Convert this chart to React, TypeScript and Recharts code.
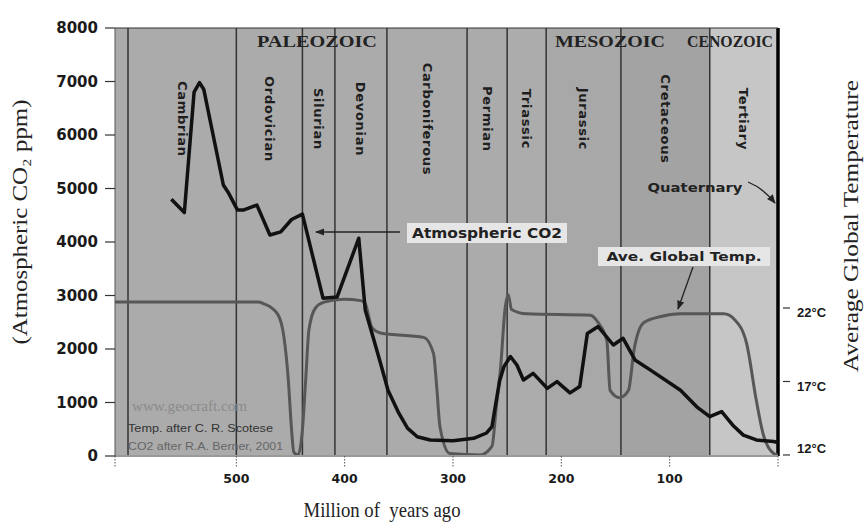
import React from "react";
import {
  ComposedChart,
  Line,
  XAxis,
  YAxis,
  ReferenceArea,
  ReferenceLine,
  ReferenceDot,
} from "recharts";

// CO2 after Berner 2001 (Myr ago, ppm)
const co2Ages = [
  560, 548, 539, 534, 530, 512, 507, 499, 493, 481, 469, 459, 449, 439, 420,
  407, 387, 381, 373, 366, 360, 350, 342, 333, 321, 300, 281, 269, 264, 261,
  257, 253, 247, 241, 235, 226, 213, 204, 192, 183, 176, 166, 152, 143, 132,
  118, 90, 75, 63, 52, 41, 32, 20, 4, 0,
];
const co2Ppm = [
  4800, 4550, 6800, 6980, 6850, 5065, 4910, 4600, 4600, 4690, 4130, 4190, 4420,
  4520, 2950, 2970, 4070, 2730, 2170, 1670, 1230, 800, 520, 360, 300, 285, 330,
  430, 550, 920, 1400, 1670, 1860, 1700, 1420, 1545, 1265, 1390, 1180, 1300,
  2290, 2420, 2075, 2200, 1795, 1610, 1230, 920, 735, 830, 560, 390, 300, 270,
  250,
];

// average global temperature after Scotese (Myr ago, deg C)
const tempAges = [
  612, 480, 475, 462, 456, 452, 449, 447, 443, 439, 436, 433, 427, 419, 401,
  385, 381, 375, 367, 327, 318, 315, 312, 303, 275, 264, 260, 256, 252, 249,
  246, 232, 173, 166, 158, 155, 146, 138, 133, 124, 109, 90, 50, 40, 29, 20,
  14, 4, 0,
];
const tempC = [
  22.4, 22.4, 22.3, 21.6, 20, 17.1, 13.7, 12.2, 12.0, 13.7, 17.1, 20.5, 22,
  22.4, 22.6, 22.5, 22.3, 20.7, 20.3, 20.0, 18.9, 16.6, 13.9, 12.1, 12.0, 12.6,
  15.3, 18, 21.9, 22.9, 21.9, 21.6, 21.5, 21, 19.8, 16.4, 15.9, 16.4, 19.1, 21,
  21.4, 21.6, 21.6, 21.2, 19.6, 15.7, 13.5, 12.1, 12,
];

// period boundaries as drawn, and the labels printed along the top
const boundaryAges = [600, 500, 439, 409, 361, 287, 250, 214, 145, 63];
const topTickAges = [590, 505, 438, 408, 360, 286, 248, 213, 144, 65, 2];
const periodNames = [
  "Cambrian",
  "Ordovician",
  "Silurian",
  "Devonian",
  "Carboniferous",
  "Permian",
  "Triassic",
  "Jurassic",
  "Cretaceous",
  "Tertiary",
];
const periodShades = [
  "#ababab",
  "#ababab",
  "#ababab",
  "#ababab",
  "#ababab",
  "#ababab",
  "#acacac",
  "#a8a8a8",
  "#a3a3a3",
  "#c6c6c6",
];

const co2Ticks = [0, 1000, 2000, 3000, 4000, 5000, 6000, 7000, 8000];
const tempTicks = [12, 17, 22];
const ageTicks = [612, 500, 400, 300, 200, 100, 0];
const ageLabels = [500, 400, 300, 200, 100];

const OLDEST = 612;

const co2Data = co2Ages.map((age, i) => ({ age, ppm: co2Ppm[i] }));
const tempData = tempAges.map((age, i) => ({ age, temp: tempC[i] }));
const periods = periodNames.map((name, i) => ({
  name,
  from: boundaryAges[i],
  to: i + 1 < boundaryAges.length ? boundaryAges[i + 1] : 0,
  fill: periodShades[i],
}));

const SANS = "DejaVu Sans";
const SERIF = "Liberation Serif";

function LeftTick({ x, y, payload }: any) {
  return (
    <g>
      <line x1={x - 10} x2={x} y1={y} y2={y} stroke="#333" strokeWidth={1.2} />
      <text
        x={x - 17}
        y={y}
        textAnchor="end"
        dominantBaseline="central"
        fontFamily={SANS}
        fontWeight="bold"
        fontSize={15}
        fill="#1a1a1a"
      >
        {payload.value}
      </text>
    </g>
  );
}

function RightTick({ x, y, payload }: any) {
  return (
    <g>
      <line x1={x + 5} x2={x + 12} y1={y} y2={y} stroke="#333" strokeWidth={1.2} />
      <text
        x={x + 19}
        y={Math.min(y + 5, 448)}
        dominantBaseline="central"
        fontFamily="Liberation Sans"
        fontWeight="bold"
        fontSize={13}
        fill="#1a1a1a"
      >
        {`${payload.value}°C`}
      </text>
    </g>
  );
}

function BottomTick({ x, y, payload }: any) {
  const show = ageLabels.includes(payload.value);
  return (
    <g>
      <line
        x1={x}
        x2={x}
        y1={y}
        y2={y + 12}
        stroke="#555"
        strokeWidth={1}
        strokeDasharray="1.5 1.5"
      />
      {show && (
        <text
          x={x}
          y={y + 22}
          textAnchor="middle"
          dominantBaseline="central"
          fontFamily={SANS}
          fontWeight="bold"
          fontSize={12.5}
          fill="#1a1a1a"
        >
          {payload.value}
        </text>
      )}
    </g>
  );
}

function TopTick({ x, y, payload }: any) {
  return (
    <text
      x={x}
      y={y - 9}
      textAnchor="middle"
      dominantBaseline="central"
      fontFamily={SANS}
      fontSize={16}
      fill="#1a1a1a"
    >
      {payload.value}
    </text>
  );
}

function PeriodLabel({ cx, cy, name }: any) {
  return (
    <text
      x={cx}
      y={cy}
      transform={`rotate(90 ${cx} ${cy})`}
      textAnchor="middle"
      dominantBaseline="central"
      fontFamily={SANS}
      fontWeight="bold"
      fontSize={13}
      letterSpacing={0.7}
      fill="#1e1e1e"
    >
      {name}
    </text>
  );
}

function Overlay() {
  const boxText = {
    fontFamily: SANS,
    fontWeight: "bold" as const,
    fill: "#222",
  };
  return (
    <svg
      width={868}
      height={526}
      style={{ position: "absolute", left: 0, top: 0, pointerEvents: "none" }}
    >
      <defs>
        <marker
          id="arrowHead"
          viewBox="0 0 10 10"
          refX="9"
          refY="5"
          markerWidth="7"
          markerHeight="7"
          orient="auto"
        >
          <path d="M0,1 L10,5 L0,9 z" fill="#222" />
        </marker>
      </defs>

      {/* era names */}
      <g fontFamily={SERIF} fontWeight="bold" fontSize={17} fill="#222" textAnchor="middle">
        <text x={317} y={47} textLength={120} lengthAdjust="spacingAndGlyphs">
          PALEOZOIC
        </text>
        <text x={610} y={47} textLength={110} lengthAdjust="spacingAndGlyphs">
          MESOZOIC
        </text>
        <text x={730} y={47} textLength={86} lengthAdjust="spacingAndGlyphs">
          CENOZOIC
        </text>
      </g>

      {/* CO2 callout */}
      <line x1={400} y1={232} x2={316} y2={232} stroke="#222" strokeWidth={1.3} markerEnd="url(#arrowHead)" />
      <rect x={407} y={223} width={160} height={20} fill="#e6e6e6" />
      <text
        x={487}
        y={233}
        textAnchor="middle"
        dominantBaseline="central"
        fontSize={14}
        textLength={150}
        lengthAdjust="spacingAndGlyphs"
        {...boxText}
      >
        Atmospheric CO2
      </text>

      {/* temperature callout */}
      <rect x={598} y={247} width={172} height={19} fill="#e6e6e6" />
      <text
        x={684}
        y={256.5}
        textAnchor="middle"
        dominantBaseline="central"
        fontSize={13}
        textLength={155}
        lengthAdjust="spacingAndGlyphs"
        {...boxText}
      >
        Ave. Global Temp.
      </text>
      <line x1={693} y1={267} x2={678} y2={309} stroke="#222" strokeWidth={1.3} markerEnd="url(#arrowHead)" />

      {/* Quaternary callout */}
      <text
        x={695}
        y={187}
        textAnchor="middle"
        dominantBaseline="central"
        fontSize={13}
        textLength={95}
        lengthAdjust="spacingAndGlyphs"
        {...boxText}
      >
        Quaternary
      </text>
      <path d="M748,182 Q763,188 775,203" fill="none" stroke="#222" strokeWidth={1.3} markerEnd="url(#arrowHead)" />

      {/* credits */}
      <text x={132} y={411} fontFamily={SERIF} fontSize={14} fill="#8a8a8a" textLength={115} lengthAdjust="spacingAndGlyphs">
        www.geocraft.com
      </text>
      <text x={128} y={432} fontFamily="Liberation Sans" fontSize={11.5} fill="#333" textLength={145} lengthAdjust="spacingAndGlyphs">
        Temp. after C. R. Scotese
      </text>
      <text x={128} y={450} fontFamily="Liberation Sans" fontSize={11.5} fill="#666" textLength={155} lengthAdjust="spacingAndGlyphs">
        CO2 after R.A. Berner, 2001
      </text>

      {/* axis titles */}
      <text
        transform="translate(27,222) rotate(-90)"
        textAnchor="middle"
        fontFamily={SERIF}
        fontSize={22}
        fill="#222"
        textLength={245}
        lengthAdjust="spacingAndGlyphs"
      >
        (Atmospheric CO₂ ppm)
      </text>
      <text
        transform="translate(858,226) rotate(-90)"
        textAnchor="middle"
        fontFamily={SERIF}
        fontSize={22}
        fill="#222"
        textLength={292}
        lengthAdjust="spacingAndGlyphs"
      >
        Average Global Temperature
      </text>
      <text
        x={382}
        y={517}
        textAnchor="middle"
        fontFamily={SERIF}
        fontSize={22}
        fill="#222"
        textLength={157}
        lengthAdjust="spacingAndGlyphs"
        style={{ whiteSpace: "pre" }}
      >
        Million of  years ago
      </text>
    </svg>
  );
}

export default function App() {
  return (
    <div
      style={{
        position: "absolute",
        left: 0,
        top: 0,
        width: 868,
        height: 526,
        background: "#fff",
      }}
    >
      <ComposedChart
        width={868}
        height={526}
        margin={{ top: 0, right: 10, bottom: 30, left: 45 }}
      >
        <XAxis
          xAxisId="bottom"
          type="number"
          dataKey="age"
          domain={[0, OLDEST]}
          allowDataOverflow
          reversed
          ticks={ageTicks}
          tick={<BottomTick />}
          tickSize={0}
          tickMargin={0}
          tickLine={false}
          axisLine={{ stroke: "#9a9a9a", strokeWidth: 2 }}
          height={40}
        />
        <XAxis
          xAxisId="top"
          orientation="top"
          type="number"
          domain={[0, OLDEST]}
          allowDataOverflow
          reversed
          ticks={topTickAges}
          interval={0}
          tick={<TopTick />}
          tickSize={0}
          tickMargin={0}
          tickLine={false}
          axisLine={{ stroke: "#333", strokeWidth: 1.2 }}
          height={28}
        />
        <YAxis
          yAxisId="co2"
          type="number"
          domain={[0, 8000]}
          allowDataOverflow
          ticks={co2Ticks}
          interval={0}
          tick={<LeftTick />}
          tickSize={0}
          tickMargin={0}
          tickLine={false}
          axisLine={{ stroke: "#555", strokeWidth: 1 }}
          width={70}
        />
        <YAxis
          yAxisId="temp"
          orientation="right"
          type="number"
          domain={[11.93, 41.05]}
          allowDataOverflow
          ticks={tempTicks}
          interval={0}
          tick={<RightTick />}
          tickSize={0}
          tickMargin={0}
          tickLine={false}
          axisLine={false}
          width={80}
        />

        <ReferenceArea
          xAxisId="bottom"
          yAxisId="co2"
          x1={OLDEST}
          x2={boundaryAges[0]}
          fill={periodShades[0]}
          fillOpacity={1}
          stroke="none"
        />
        {periods.map((p) => (
          <ReferenceArea
            key={p.name}
            xAxisId="bottom"
            yAxisId="co2"
            x1={p.from}
            x2={p.to}
            fill={p.fill}
            fillOpacity={1}
            stroke="none"
          />
        ))}
        {boundaryAges.map((a) => (
          <ReferenceLine
            key={a}
            xAxisId="bottom"
            yAxisId="co2"
            x={a}
            stroke="#333"
            strokeWidth={1.5}
          />
        ))}
        <ReferenceLine xAxisId="bottom" yAxisId="co2" x={0} stroke="#000" strokeWidth={3.5} />
        {periods.map((p) => (
          <ReferenceDot
            key={`lbl-${p.name}`}
            xAxisId="bottom"
            yAxisId="co2"
            x={(p.from + p.to) / 2}
            y={6300}
            r={0}
            shape={(s: any) => <PeriodLabel cx={s.cx} cy={s.cy} name={p.name} />}
          />
        ))}

        <Line
          xAxisId="bottom"
          yAxisId="temp"
          data={tempData}
          dataKey="temp"
          type="monotone"
          stroke="#575757"
          strokeWidth={3}
          dot={false}
          isAnimationActive={false}
        />
        <Line
          xAxisId="bottom"
          yAxisId="co2"
          data={co2Data}
          dataKey="ppm"
          type="linear"
          stroke="#111"
          strokeWidth={3.5}
          strokeLinejoin="round"
          dot={false}
          isAnimationActive={false}
        />
      </ComposedChart>
      <Overlay />
    </div>
  );
}
